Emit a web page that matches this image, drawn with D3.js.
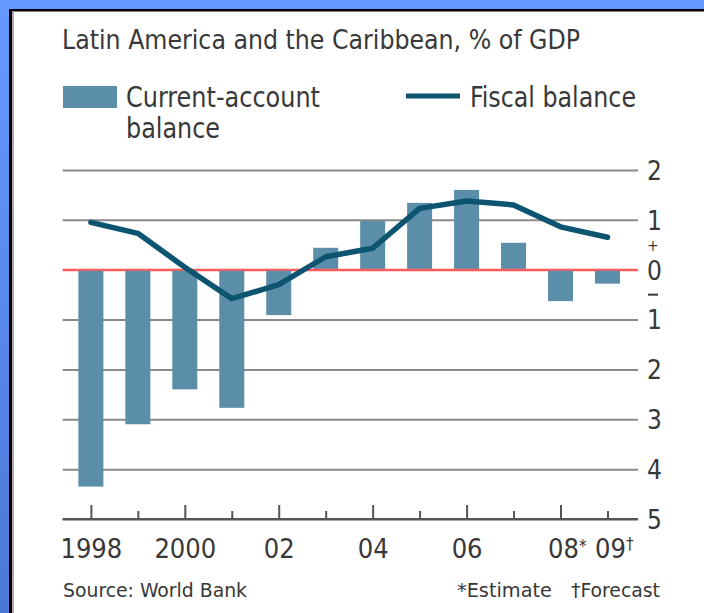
<!DOCTYPE html>
<html>
<head>
<meta charset="utf-8">
<script src="https://cdn.jsdelivr.net/npm/d3@7"></script>
<style>
  html, body { margin: 0; padding: 0; background: #fff; }
  text { font-family: "Liberation Sans Narrow", "DejaVu Sans Condensed", "Roboto", sans-serif; fill: #383838; }
</style>
</head>
<body>
<div id="chart"></div>
<script>
// data
const years = [1998, 1999, 2000, 2001, 2002, 2003, 2004, 2005, 2006, 2007, 2008, 2009];
const currentAccount = [-4.35, -3.1, -2.4, -2.77, -0.91, 0.44, 0.98, 1.34, 1.6, 0.54, -0.63, -0.28];
const fiscalBalance = [0.95, 0.73, 0.05, -0.58, -0.3, 0.26, 0.43, 1.23, 1.38, 1.3, 0.86, 0.65];
const yTicks = [-5, -4, -3, -2, -1, 0, 1, 2];
const xLabels = ["1998", "", "2000", "", "02", "", "04", "", "06", "", "08", "09"];
const xMarks = ["", "", "", "", "", "", "", "", "", "", "*", "\u2020"];

const W = 704, H = 613;
const plotLeft = 62.7, plotRight = 638, plotTop = 170, plotBottom = 519;
const barColor = "#5b8fa9";
const lineColor = "#0c5470";

const svg = d3.select("#chart").append("svg")
    .attr("width", W)
    .attr("height", H);

// slide frame
const defs = svg.append("defs");
const grad = defs.append("linearGradient")
    .attr("id", "side-blue")
    .attr("x1", "0%").attr("x2", "0%").attr("y1", "0%").attr("y2", "100%");
grad.append("stop").attr("offset", "0%").attr("stop-color", "#6699ff");
grad.append("stop").attr("offset", "100%").attr("stop-color", "#4a78d8");

svg.append("rect").attr("x", 0).attr("y", 0).attr("width", W).attr("height", H).attr("fill", "#fff");
svg.append("rect").attr("x", 0).attr("y", 0).attr("width", 9).attr("height", H).attr("fill", "url(#side-blue)");
svg.append("rect").attr("x", 0).attr("y", 0).attr("width", W).attr("height", 9).attr("fill", "#6699ff");
svg.append("rect").attr("x", 9).attr("y", 9).attr("width", W - 9).attr("height", 2.5).attr("fill", "#000");
svg.append("rect").attr("x", 9).attr("y", 9).attr("width", 3).attr("height", H - 9).attr("fill", "#000");
svg.append("rect").attr("x", 12).attr("y", 11.5).attr("width", 2).attr("height", H - 11.5).attr("fill", "#aaa");

// scales
const x = d3.scaleLinear().domain([1997.4, 2009.65]).range([plotLeft, plotRight]);
const y = d3.scaleLinear().domain([-5, 2]).range([plotBottom, plotTop]);
const barW = 25;

// subtitle
svg.append("text")
    .attr("x", 62)
    .attr("y", 49)
    .attr("font-size", 26)
    .attr("textLength", 518)
    .attr("lengthAdjust", "spacingAndGlyphs")
    .text("Latin America and the Caribbean, % of GDP");

// legend
svg.append("rect")
    .attr("x", 63).attr("y", 86).attr("width", 54).attr("height", 22)
    .attr("fill", barColor);
svg.append("text")
    .attr("x", 126).attr("y", 107).attr("font-size", 29)
    .attr("textLength", 194).attr("lengthAdjust", "spacingAndGlyphs")
    .text("Current-account");
svg.append("text")
    .attr("x", 126).attr("y", 138).attr("font-size", 29)
    .attr("textLength", 94).attr("lengthAdjust", "spacingAndGlyphs")
    .text("balance");
svg.append("line")
    .attr("x1", 406).attr("x2", 460).attr("y1", 96).attr("y2", 96)
    .attr("stroke", lineColor).attr("stroke-width", 5);
svg.append("text")
    .attr("x", 470).attr("y", 107).attr("font-size", 29)
    .attr("textLength", 166).attr("lengthAdjust", "spacingAndGlyphs")
    .text("Fiscal balance");

// y axis with grid lines, labels on the right
const yAxis = d3.axisRight(y)
    .tickValues(yTicks)
    .tickSize(-(plotRight - plotLeft))
    .tickPadding(9)
    .tickFormat(d => Math.abs(d));

const gy = svg.append("g")
    .attr("transform", `translate(${plotRight},0)`)
    .call(yAxis);
gy.select(".domain").remove();
gy.selectAll(".tick line")
    .attr("stroke", d => d === 0 ? "#ff5b5b" : (d === -5 ? "#555" : "#8a8a8a"))
    .attr("stroke-width", 2);
gy.selectAll(".tick text")
    .attr("font-size", 26)
    .attr("dy", "0.36em")
    .style("fill", "#383838");

// plus / minus markers beside zero
svg.append("text")
    .attr("x", 653).attr("y", y(0.5) + 6)
    .attr("text-anchor", "middle").attr("font-size", 15)
    .text("+");
svg.append("line")
    .attr("x1", 648).attr("x2", 658)
    .attr("y1", y(-0.5)).attr("y2", y(-0.5))
    .attr("stroke", "#383838").attr("stroke-width", 2);

// bars
svg.append("g")
    .selectAll("rect")
    .data(years)
    .join("rect")
    .attr("x", (d, i) => x(d) - barW / 2)
    .attr("y", (d, i) => y(Math.max(0, currentAccount[i])))
    .attr("width", barW)
    .attr("height", (d, i) => Math.abs(y(currentAccount[i]) - y(0)))
    .attr("fill", barColor);

// redraw zero line above the bars
svg.append("line")
    .attr("x1", plotLeft).attr("x2", plotRight)
    .attr("y1", y(0)).attr("y2", y(0))
    .attr("stroke", "#ff5b5b").attr("stroke-width", 2);

// fiscal line
const line = d3.line()
    .x((d, i) => x(years[i]))
    .y(d => y(d));
svg.append("path")
    .datum(fiscalBalance)
    .attr("d", line)
    .attr("fill", "none")
    .attr("stroke", lineColor)
    .attr("stroke-width", 5.5)
    .attr("stroke-linejoin", "round")
    .attr("stroke-linecap", "round");

// x axis
const xAxis = d3.axisBottom(x)
    .tickValues(years)
    .tickSize(0)
    .tickPadding(0)
    .tickFormat("");
const gx = svg.append("g")
    .attr("transform", `translate(0,${plotBottom})`)
    .call(xAxis);
gx.select(".domain").remove();
gx.append("line")
    .attr("x1", plotLeft).attr("x2", plotRight)
    .attr("stroke", "#555").attr("stroke-width", 2);
gx.selectAll(".tick").append("line")
    .attr("y1", 0)
    .attr("y2", d => d % 2 === 0 ? -14 : -8)
    .attr("stroke", "#555")
    .attr("stroke-width", 2);

const labels = gx.selectAll(".tick").append("text")
    .attr("y", 39)
    .attr("text-anchor", "middle")
    .attr("font-size", 27)
    .style("fill", "#383838");
labels.append("tspan").text((d, i) => xLabels[i]);
labels.filter((d, i) => xMarks[i] !== "")
    .attr("text-anchor", "start")
    .attr("x", -13)
    .append("tspan")
    .attr("font-size", 17)
    .attr("dy", (d, i) => d === 2009 ? -8 : -6)
    .text(d => xMarks[years.indexOf(d)]);

// footnotes
svg.append("text")
    .attr("x", 63).attr("y", 597).attr("font-size", 20)
    .attr("textLength", 184).attr("lengthAdjust", "spacingAndGlyphs")
    .text("Source: World Bank");
svg.append("text")
    .attr("x", 457).attr("y", 597).attr("font-size", 20)
    .attr("textLength", 95).attr("lengthAdjust", "spacingAndGlyphs")
    .text("*Estimate");
svg.append("text")
    .attr("x", 571).attr("y", 597).attr("font-size", 20)
    .attr("textLength", 89).attr("lengthAdjust", "spacingAndGlyphs")
    .text("\u2020Forecast");
</script>
</body>
</html>
